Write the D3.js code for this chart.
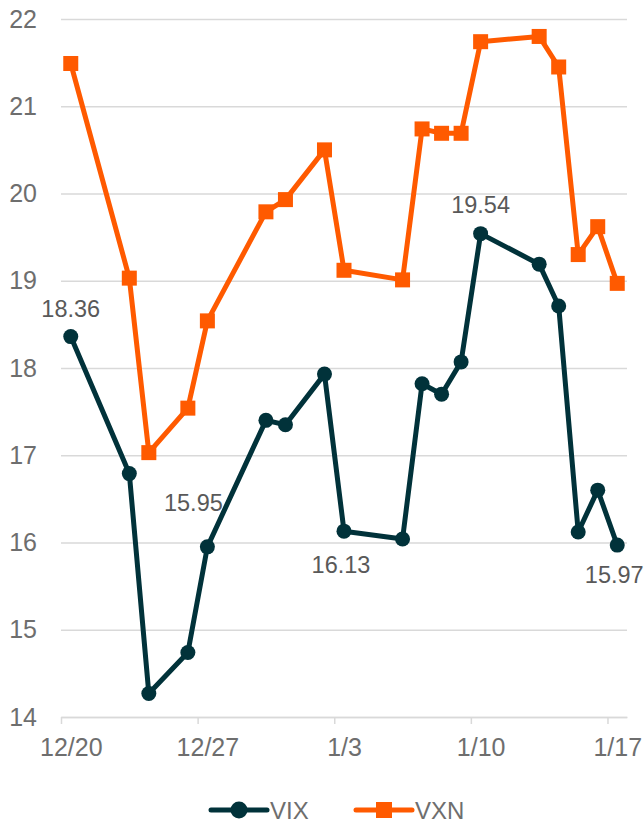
<!DOCTYPE html>
<html>
<head>
<meta charset="utf-8">
<script src="https://cdn.jsdelivr.net/npm/d3@7"></script>
<style>
	body { margin: 0; background: #fff; }
	text { font-family: "Liberation Sans", Arial, sans-serif; }
</style>
</head>
<body>
<div id="svg-container"></div>
<script>

// DATA
const dates = ['2019-12-20', '2019-12-23', '2019-12-24', '2019-12-26', '2019-12-27',
	'2019-12-30', '2019-12-31', '2020-01-02', '2020-01-03', '2020-01-06',
	'2020-01-07', '2020-01-08', '2020-01-09', '2020-01-10', '2020-01-13',
	'2020-01-14', '2020-01-15', '2020-01-16', '2020-01-17'];
const vix = [18.36, 16.79, 14.27, 14.74, 15.95, 17.40, 17.35, 17.93, 16.13, 16.04,
	17.82, 17.70, 18.07, 19.54, 19.19, 18.71, 16.12, 16.60, 15.97];
const vxn = [21.49, 19.03, 17.03, 17.54, 18.54, 19.79, 19.93, 20.50, 19.12, 19.01,
	20.74, 20.69, 20.69, 21.74, 21.80, 21.45, 19.30, 19.62, 18.97];
const yTicks = [14, 15, 16, 17, 18, 19, 20, 21, 22];
const xTicks = ['2019-12-20', '2019-12-27', '2020-01-03', '2020-01-10', '2020-01-17'];
// which VIX points carry a value label
const labelled = [0, 4, 8, 13, 18];

// LINE CHART
function graphData() {
	const w = 644;
	const h = 823;
	const padTop = 19;
	const padLeft = 61;
	const padRight = 17;
	const plotBottom = 717;

	const parse = d3.utcParse('%Y-%m-%d');
	const day = 864e5;
	const dt = dates.map(parse);

	// x-scale: one slot per calendar day, points in the middle of their day
	const xScale = d3.scaleUtc()
		.domain([dt[0], new Date(+dt[dt.length - 1] + day)])
		.range([padLeft, w - padRight]);
	const half = (xScale(new Date(+dt[0] + day)) - xScale(dt[0])) / 2;
	const xPos = d => xScale(d) + half;

	// y-scale
	const yScale = d3.scaleLinear()
		.domain([14, 22])
		.range([plotBottom, padTop]);

	const svg = d3.select('#svg-container')
		.append('svg')
		.attr('width', w)
		.attr('height', h);

	// gridlines + y labels
	const yAxis = svg.append('g')
		.attr('transform', `translate(${padLeft},0)`)
		.call(d3.axisLeft(yScale).tickValues(yTicks).tickSize(-(w - padRight - padLeft)).tickPadding(24));
	yAxis.select('.domain').remove();
	yAxis.selectAll('.tick line').attr('stroke', '#d9d9d9').attr('stroke-width', 1.5);
	yAxis.selectAll('.tick text')
		.attr('fill', '#6e6e6e')
		.attr('font-size', 25);

	// x axis
	const xAxis = svg.append('g')
		.attr('transform', `translate(0,${plotBottom})`)
		.call(d3.axisBottom(xScale)
			.tickValues(xTicks.map(parse))
			.tickFormat(d3.utcFormat('%-m/%-d'))
			.tickSize(7)
			.tickSizeOuter(0)
			.tickPadding(14));
	xAxis.select('.domain').attr('stroke', '#d9d9d9').attr('stroke-width', 1.5);
	xAxis.selectAll('.tick line').attr('stroke', '#d9d9d9').attr('stroke-width', 1.5);
	xAxis.selectAll('.tick text')
		.attr('x', half)
		.attr('fill', '#6e6e6e')
		.attr('font-size', 25);

	const line = d3.line()
		.x((d, i) => xPos(dt[i]))
		.y(d => yScale(d));

	const vixColor = '#01323a';
	const vxnColor = '#ff5a00';

	// VIX
	svg.append('path')
		.attr('d', line(vix))
		.attr('fill', 'none')
		.attr('stroke', vixColor)
		.attr('stroke-width', 5)
		.attr('stroke-linejoin', 'round');
	svg.selectAll('circle.vix')
		.data(vix)
		.enter()
		.append('circle')
		.attr('class', 'vix')
		.attr('cx', (d, i) => xPos(dt[i]))
		.attr('cy', d => yScale(d))
		.attr('r', 7.5)
		.attr('fill', vixColor);

	// VXN
	svg.append('path')
		.attr('d', line(vxn))
		.attr('fill', 'none')
		.attr('stroke', vxnColor)
		.attr('stroke-width', 5)
		.attr('stroke-linejoin', 'round');
	svg.selectAll('rect.vxn')
		.data(vxn)
		.enter()
		.append('rect')
		.attr('class', 'vxn')
		.attr('x', (d, i) => xPos(dt[i]) - 7.5)
		.attr('y', d => yScale(d) - 7.5)
		.attr('width', 15)
		.attr('height', 15)
		.attr('fill', vxnColor);

	// value labels (offsets picked by eye)
	const offsets = { 0: [0, -20], 4: [-14, -36], 8: [-3, 42], 13: [0, -21], 18: [-3, 38] };
	svg.selectAll('text.lbl')
		.data(labelled)
		.enter()
		.append('text')
		.attr('class', 'lbl')
		.attr('x', i => xPos(dt[i]) + offsets[i][0])
		.attr('y', i => yScale(vix[i]) + offsets[i][1])
		.attr('text-anchor', 'middle')
		.attr('fill', '#595959')
		.attr('font-size', 23.5)
		.text(i => vix[i].toFixed(2));

	// legend
	const legend = svg.append('g').attr('transform', 'translate(0,810)');
	const items = [
		{ name: 'VIX', color: vixColor, x: 211, shape: 'circle' },
		{ name: 'VXN', color: vxnColor, x: 356, shape: 'rect' }
	];
	items.forEach(it => {
		legend.append('line')
			.attr('x1', it.x).attr('x2', it.x + 56)
			.attr('y1', 0).attr('y2', 0)
			.attr('stroke', it.color)
			.attr('stroke-width', 5)
			.attr('stroke-linecap', 'round');
		if (it.shape === 'circle') {
			legend.append('circle').attr('cx', it.x + 28).attr('cy', 0).attr('r', 8.5).attr('fill', it.color);
		} else {
			legend.append('rect').attr('x', it.x + 20).attr('y', -8).attr('width', 16).attr('height', 16).attr('fill', it.color);
		}
		legend.append('text')
			.attr('x', it.x + 59)
			.attr('y', 8.5)
			.attr('fill', '#6e6e6e')
			.attr('font-size', 24)
			.text(it.name);
	});
}

document.addEventListener('DOMContentLoaded', () => {
	graphData();
});
</script>
</body>
</html>
